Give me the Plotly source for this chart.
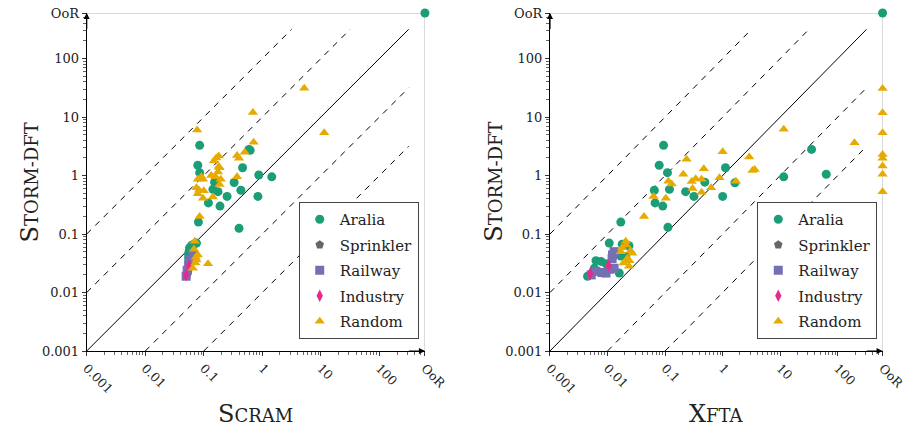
import math
import plotly.graph_objects as go

OOR = 600  # value used to place "Out of Range" results

tick_vals = [0.001, 0.01, 0.1, 1, 10, 100, OOR]
tick_text = ["0.001", "0.01", "0.1", "1", "10", "100", "OoR"]
minor_vals = [m * 10 ** k for k in range(-3, 2) for m in range(2, 10)] + [200, 300, 400, 500]

series = ["Aralia", "Sprinkler", "Railway", "Industry", "Random"]
colors = {"Aralia": "#1b9e77", "Sprinkler": "#666666", "Railway": "#7570b3",
          "Industry": "#e7298a", "Random": "#e6ab02"}
symbols = {"Aralia": "circle", "Sprinkler": "pentagon", "Railway": "square",
           "Industry": "diamond-tall", "Random": "triangle-up"}
sizes = {"Aralia": 9, "Sprinkler": 9, "Railway": 9, "Industry": 9, "Random": 9}

# ---------------- SCRAM vs STORM-DFT ----------------
scram_aralia_x = [0.085, 0.079, 0.085, 0.153, 0.143, 0.175, 0.12, 0.189, 0.25, 0.33, 0.43, 0.46,
                  0.59, 0.62, 0.87, 0.84, 1.45, 0.40, 0.081, 0.075, 0.068, 0.062, 0.057, 0.056,
                  0.055, 0.055, 0.060, OOR]
scram_aralia_y = [3.28, 1.5, 1.12, 0.77, 0.58, 0.53, 0.34, 0.30, 0.44, 0.76, 0.56, 1.36,
                  2.8, 2.7, 1.02, 0.44, 0.95, 0.125, 0.16, 0.070, 0.067, 0.064, 0.058, 0.050,
                  0.045, 0.039, 0.055, OOR]
scram_sprinkler_x = [0.054, 0.052]
scram_sprinkler_y = [0.022, 0.020]
scram_railway_x = [0.065, 0.052, 0.050, 0.055, 0.058]
scram_railway_y = [0.046, 0.024, 0.019, 0.030, 0.036]
scram_industry_x = [0.056, 0.050]
scram_industry_y = [0.029, 0.020]
scram_random_x = [5.2, 0.69, 11.4, 0.077, 0.71, 0.50, 0.37, 0.40, 0.163, 0.18, 0.149, 0.186,
                  0.175, 0.195, 0.186, 0.134, 0.158, 0.37, 0.079, 0.097, 0.075, 0.083, 0.10,
                  0.079, 0.097, 0.143, 0.085, 0.118, 0.070, 0.079, 0.075, 0.072, 0.065, 0.18,
                  0.091, 0.068, 0.073]
scram_random_y = [31, 12, 5.4, 6.0, 3.7, 2.5, 2.2, 1.97, 2.0, 2.15, 1.77, 1.36,
                  1.15, 0.86, 0.70, 1.0, 0.95, 0.95, 0.86, 0.86, 0.62, 0.56, 0.55,
                  0.49, 0.41, 0.43, 0.20, 0.031, 0.075, 0.044, 0.036, 0.032, 0.026, 1.43,
                  0.95, 0.055, 0.040]

# ---------------- XFTA vs STORM-DFT ----------------
xfta_aralia_x = [0.094, 0.079, 0.11, 1.12, 0.49, 1.63, 0.065, 0.119, 0.227, 0.317, 1.0, 0.067,
                 0.091, 0.112, 35, 11.5, 63, 0.017, 0.0107, 0.018, 0.0236, 0.017, 0.0207,
                 0.0063, 0.0077, 0.0094, 0.0059, 0.0045, 0.016, OOR]
xfta_aralia_y = [3.28, 1.5, 1.12, 1.36, 0.77, 0.75, 0.56, 0.58, 0.53, 0.44, 0.44, 0.34,
                 0.30, 0.13, 2.8, 0.95, 1.05, 0.16, 0.070, 0.067, 0.063, 0.042, 0.041,
                 0.035, 0.034, 0.031, 0.026, 0.019, 0.0215, OOR]
xfta_sprinkler_x = [0.0052, 0.0055]
xfta_sprinkler_y = [0.0215, 0.022]
xfta_railway_x = [0.0122, 0.013, 0.0063, 0.0094, 0.013, 0.0052, 0.008, 0.011, 0.012]
xfta_railway_y = [0.044, 0.050, 0.023, 0.0215, 0.026, 0.020, 0.022, 0.025, 0.038]
xfta_industry_x = [0.0104, 0.005]
xfta_industry_y = [0.029, 0.021]
xfta_random_x = [OOR, OOR, OOR, OOR, OOR, OOR, OOR, OOR, 195, 11.5, 1.0, 2.9, 3.3, 3.6, 1.7,
                 0.47, 0.236, 0.207, 0.34, 0.29, 0.43, 0.88, 0.63, 0.30, 0.43, 0.114, 0.13,
                 0.103, 0.063, 0.043, 0.0207, 0.027, 0.0236, 0.018, 0.022, 0.025, 0.019,
                 0.021, 0.024, 0.017]
xfta_random_y = [30.8, 11.9, 5.4, 2.3, 1.97, 1.45, 1.05, 0.53, 3.65, 6.2, 2.56, 2.07, 1.22,
                 1.27, 0.80, 1.3, 1.9, 1.05, 0.88, 0.79, 0.86, 0.92, 0.62, 0.6, 0.52, 0.80,
                 0.72, 0.41, 0.44, 0.2, 0.075, 0.047, 0.028, 0.058, 0.038, 0.052, 0.032,
                 0.065, 0.035, 0.05]

data = {
    1: {"Aralia": (scram_aralia_x, scram_aralia_y), "Sprinkler": (scram_sprinkler_x, scram_sprinkler_y),
        "Railway": (scram_railway_x, scram_railway_y), "Industry": (scram_industry_x, scram_industry_y),
        "Random": (scram_random_x, scram_random_y)},
    2: {"Aralia": (xfta_aralia_x, xfta_aralia_y), "Sprinkler": (xfta_sprinkler_x, xfta_sprinkler_y),
        "Railway": (xfta_railway_x, xfta_railway_y), "Industry": (xfta_industry_x, xfta_industry_y),
        "Random": (xfta_random_x, xfta_random_y)},
}

# reference ratios y = k*x drawn as diagonal guide lines
ratios = [100, 10, 1, 0.1, 0.01]
LINE_MAX = 10 ** 2.5

FONT = "DejaVu Serif, Liberation Serif, serif"
TXT = "#222222"

fig = go.Figure()

for p in (1, 2):
    xa = "x" if p == 1 else "x2"
    ya = "y" if p == 1 else "y2"
    for k in ratios:
        x0 = max(0.001, 0.001 / k)
        x1 = min(LINE_MAX, LINE_MAX / k)
        fig.add_trace(go.Scatter(x=[x0, x1], y=[k * x0, k * x1], mode="lines",
                                 line=dict(color="black", width=1,
                                           dash="solid" if k == 1 else "6px,6px"),
                                 xaxis=xa, yaxis=ya, showlegend=False, hoverinfo="skip"))
    fig.add_trace(go.Scatter(x=[0.001, OOR, OOR], y=[OOR, OOR, 0.001], mode="lines",
                             line=dict(color="#bbbbbb", width=1), xaxis=xa, yaxis=ya,
                             showlegend=False, hoverinfo="skip", cliponaxis=False))
    for s in series:
        xs, ys = data[p][s]
        fig.add_trace(go.Scatter(
            x=xs, y=ys, mode="markers", name=s, xaxis=xa, yaxis=ya,
            marker=dict(symbol=symbols[s], color=colors[s], size=sizes[s], line=dict(width=0)),
            cliponaxis=False, legend="legend" if p == 1 else "legend2",
            legendgroup=f"{s}{p}"))

lo, hi = -3, math.log10(OOR)
YD = [0.1931, 0.970]


def base_axis(side_ticks, labels, fsize=13):
    d = dict(type="log", range=[lo, hi], tickmode="array", tickvals=tick_vals, ticktext=tick_text,
             ticks=side_ticks, ticklen=4, tickcolor="#333", tickwidth=1,
             showgrid=False, zeroline=False, automargin=False, showticklabels=labels,
             ticklabeloverflow="allow",
             tickfont=dict(family=FONT, size=fsize, color=TXT),
             minor=dict(tickmode="array", tickvals=minor_vals, ticks=side_ticks, ticklen=3,
                        tickcolor="#666", tickwidth=1, showgrid=False))
    return d


def xaxis(domain, anchor):
    d = base_axis("outside", True, 12.5)
    d.update(domain=domain, anchor=anchor, tickangle=45, showline=True, linecolor="black",
             linewidth=1)
    return d


def yaxis(anchor):
    d = base_axis("outside", True, 13)
    d.update(domain=YD, anchor=anchor, showline=True, linecolor="black", linewidth=1)
    return d


def x_over(base, anchor):
    d = base_axis("inside", False)
    d.update(overlaying=base, anchor=anchor, side="bottom", showline=False)
    return d


def y_over(base, anchor):
    d = base_axis("inside", False)
    d.update(overlaying=base, anchor=anchor, side="left", showline=False)
    return d


xd1 = [0.0955, 0.468]
xd2 = [0.6057, 0.972]

leg = dict(bgcolor="white", bordercolor="#444", borderwidth=1,
           font=dict(family=FONT, size=15, color=TXT), tracegroupgap=3,
           xanchor="left", yanchor="top", itemwidth=30)

annotations = []
for p, xd in ((1, xd1), (2, xd2)):
    xr = "x" if p == 1 else "x2"
    yr = "y" if p == 1 else "y2"
    annotations.append(dict(x=hi, y=lo, ax=hi - 0.3, ay=lo, xref=xr, yref=yr, axref=xr, ayref=yr,
                            showarrow=True, arrowhead=2, arrowsize=1, arrowwidth=1.2,
                            arrowcolor="black", text=""))
    annotations.append(dict(x=lo, y=hi, ax=lo, ay=hi - 0.3, xref=xr, yref=yr, axref=xr, ayref=yr,
                            showarrow=True, arrowhead=2, arrowsize=1, arrowwidth=1.2,
                            arrowcolor="black", text=""))
    xt = "S<span style='font-size:18px'>CRAM</span>" if p == 1 else "X<span style='font-size:18px'>FTA</span>"
    annotations.append(dict(x=(xd[0] + xd[1]) / 2, y=0.012, xref="paper", yref="paper",
                            yanchor="bottom", xanchor="center", showarrow=False, text=xt,
                            font=dict(family=FONT, size=24, color=TXT)))
    annotations.append(dict(x=(xd[0] - 0.062), y=(YD[0] + YD[1]) / 2, xref="paper", yref="paper",
                            xanchor="center", yanchor="middle", showarrow=False, textangle=-90,
                            text="S<span style='font-size:18px'>TORM-DFT</span>",
                            font=dict(family=FONT, size=24, color=TXT)))

fig.update_layout(
    width=908, height=435, margin=dict(l=0, r=0, t=0, b=0, autoexpand=False),
    paper_bgcolor="white", plot_bgcolor="white",
    xaxis=xaxis(xd1, "y"), yaxis=yaxis("x"),
    xaxis2=xaxis(xd2, "y2"), yaxis2=yaxis("x2"),
    xaxis3=x_over("x", "y"), yaxis3=y_over("y", "x"),
    xaxis4=x_over("x2", "y2"), yaxis4=y_over("y2", "x2"),
    legend=dict(leg, x=0.329, y=0.5356),
    legend2=dict(leg, x=0.834, y=0.5356),
    annotations=annotations,
    font=dict(family=FONT, color=TXT),
)

fig.write_html("out.html", config={"displayModeBar": False},
               post_script="document.body.style.margin='0px';")
